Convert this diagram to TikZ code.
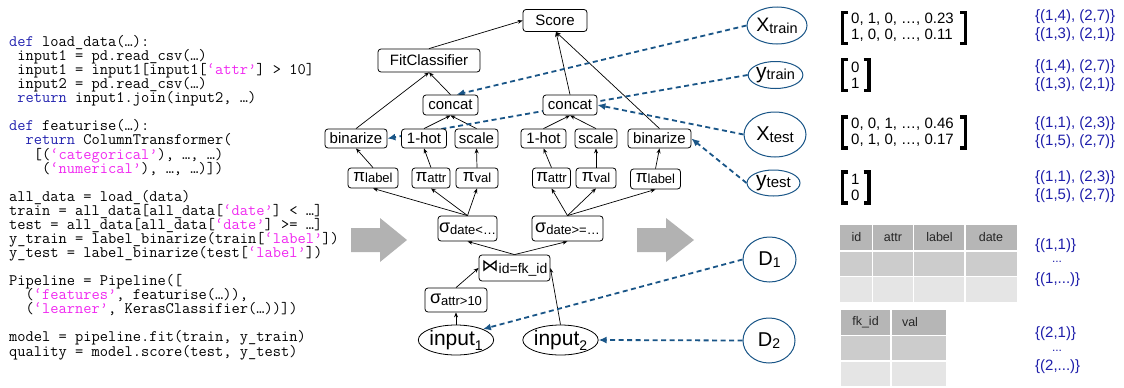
\documentclass[tikz,border=0pt]{standalone}
\usepackage{fontspec}
\setmainfont{Liberation Sans}
\newfontfamily\dejavu{DejaVu Sans}
\usetikzlibrary{arrows.meta,calc,shapes.geometric}
\pgfdeclarelayer{background}
\pgfsetlayers{background,main}
\definecolor{kwblue}{RGB}{35,35,175}
\definecolor{strmag}{RGB}{240,40,240}
\definecolor{dblue}{RGB}{25,85,135}
\definecolor{setblue}{RGB}{30,30,170}
\definecolor{garrow}{RGB}{178,178,178}
\definecolor{thead}{RGB}{182,182,182}
\definecolor{trowa}{RGB}{204,204,204}
\definecolor{trowb}{RGB}{229,229,229}
\newcommand\fs[1]{\fontsize{#1}{#1}\selectfont}
\newcommand\mykw[1]{\textcolor{kwblue}{#1}}
\newcommand\mystr[1]{\textcolor{strmag}{#1}}
\newcommand\cl[2]{\node[code] (code#1) at (9,{46.5+14.07*#1}) {#2};}
\newcommand\brk[4]{% left x, right x, ymid, serif length
  \draw[brkline] ({#1+#4},{#3-15.5}) -- (#1,{#3-15.5}) -- (#1,{#3+15.5}) -- ({#1+#4},{#3+15.5});
  \draw[brkline] ({#2-#4},{#3-15.5}) -- (#2,{#3-15.5}) -- (#2,{#3+15.5}) -- ({#2-#4},{#3+15.5});}
\tikzset{
  op/.style={draw, rounded corners=3pt, line width=0.8pt, fill=white, inner sep=1pt, font=\fs{15}},
  inp/.style={draw, ellipse, fill=white, line width=0.8pt, inner sep=0pt, font=\fs{21}},
  dat/.style={draw=dblue, fill=white, ellipse, line width=1pt, inner sep=0pt},
  edge/.style={-{Stealth[length=5pt,width=4pt]}, line width=0.7pt},
  dedge/.style={-{Latex[length=8pt,width=7pt]}, draw=dblue, line width=1.8pt, dash pattern=on 5pt off 3.5pt},
  code/.style={anchor=base west, inner sep=0pt, font=\ttfamily\fs{16}},
  matx/.style={anchor=west, inner sep=0pt, align=left, font=\fontsize{15}{16}\selectfont},
  setx/.style={anchor=west, inner sep=0pt, align=left, text=setblue, font=\fontsize{15}{18}\selectfont},
  brkline/.style={line width=3.5pt, line join=miter},
  grid/.style={draw=white, line width=1.4pt},
  th/.style={inner sep=0pt, text=black!85, font=\fs{12.5}},
  bigarrow/.style={fill=garrow}
}
\begin{document}
\begin{tikzpicture}[x=1pt,y=-1pt]
\useasboundingbox (0,0) rectangle (1124,388);

% ---------------- code ----------------
\cl{0}{\mykw{def}~load\_data(…):}
\cl{1}{~input1~=~pd.read\_csv(…)}
\cl{2}{~input1~=~input1[input1[\mystr{‘attr’}]~>~10]}
\cl{3}{~input2~=~pd.read\_csv(…)}
\cl{4}{~\mykw{return}~input1.join(input2,~…)}
\cl{6}{\mykw{def}~featurise(…):}
\cl{7}{~~\mykw{return}~ColumnTransformer(}
\cl{8}{~~~[(\mystr{‘categorical’}),~…,~…)}
\cl{9}{~~~~(\mystr{‘numerical’}),~…,~…)])}
\cl{11}{all\_data~=~load\_(data)}
\cl{12}{train~=~all\_data[all\_data[\mystr{‘date’}]~<~…]}
\cl{13}{test~=~all\_data[all\_data[\mystr{‘date’}]~>=~…]}
\cl{14}{y\_train~=~label\_binarize(train[\mystr{‘label’}])}
\cl{15}{y\_test~=~label\_binarize(test[\mystr{‘label’}])}
\cl{17}{Pipeline~=~Pipeline([}
\cl{18}{~~(\mystr{‘features’},~featurise(…)),}
\cl{19}{~~(\mystr{‘learner’},~KerasClassifier(…))])}
\cl{21}{model~=~pipeline.fit(train,~y\_train)}
\cl{22}{quality~=~model.score(test,~y\_test)}

% ---------------- big arrows ----------------
\fill[bigarrow] (351,228) -- (380,228) -- (380,218) -- (407,240) -- (380,262) -- (380,252) -- (351,252) -- cycle;
\fill[bigarrow] (637,228) -- (666,228) -- (666,218) -- (694,240) -- (666,262) -- (666,252) -- (637,252) -- cycle;

% ---------------- plan nodes ----------------
\node[op, minimum width=64pt, minimum height=22pt] (score) at (555,20.5) {Score};
\node[op, minimum width=102pt, minimum height=23pt] (fit) at (429,60.5) {FitClassifier};
\node[op, minimum width=55pt, minimum height=20pt] (concatL) at (450.5,105) {concat};
\node[op, minimum width=54pt, minimum height=20pt] (concatR) at (570,105) {concat};
\node[op, minimum width=62pt, minimum height=19pt] (binL) at (356,138.5) {binarize};
\node[op, minimum width=45pt, minimum height=19pt] (hotL) at (424,138.5) {1-hot};
\node[op, minimum width=43pt, minimum height=19pt] (scaleL) at (476.5,138.5) {scale};
\node[op, minimum width=45pt, minimum height=19pt] (hotR) at (543.5,138.5) {1-hot};
\node[op, minimum width=42pt, minimum height=19pt] (scaleR) at (596,138.5) {scale};
\node[op, minimum width=63pt, minimum height=19pt] (binR) at (659.5,138.5) {binarize};

\node[op, minimum width=50pt, minimum height=20pt] (piLabelL) at (373,178) {{\fs{17}π}\raisebox{-1pt}{\fs{13}label}};
\node[op, minimum width=38pt, minimum height=20pt] (piAttrL) at (431,178) {{\fs{17}π}\raisebox{-1pt}{\fs{13}attr}};
\node[op, minimum width=42pt, minimum height=20pt] (piValL) at (477,178) {{\fs{17}π}\raisebox{-1pt}{\fs{13}val}};
\node[op, minimum width=38pt, minimum height=20pt] (piAttrR) at (551.5,178) {{\fs{17}π}\raisebox{-1pt}{\fs{13}attr}};
\node[op, minimum width=40pt, minimum height=20pt] (piValR) at (596,178) {{\fs{17}π}\raisebox{-1pt}{\fs{13}val}};
\node[op, minimum width=50pt, minimum height=20pt] (piLabelR) at (655.5,179) {{\fs{17}π}\raisebox{-1pt}{\fs{13}label}};

\node[op, minimum width=57pt, minimum height=25pt] (sigL) at (467.5,228.5) {{\fs{18}σ}\raisebox{-2pt}{\fs{13}date<…}};
\node[op, minimum width=71pt, minimum height=25pt] (sigR) at (567.5,228.5) {{\fs{18}σ}\raisebox{-2pt}{\fs{13}date>=…}};
\node[op, minimum width=71pt, minimum height=26pt] (join) at (514.5,268) {{\dejavu\fs{17}⋈}\raisebox{-2pt}{\fs{14}id=fk\_id}};
\node[op, minimum width=62pt, minimum height=24pt] (sigA) at (456,300) {{\fs{18}σ}\raisebox{-2pt}{\fs{13}attr>10}};
\node[inp, minimum width=74pt, minimum height=30pt] (in1) at (456,340) {input\raisebox{-5pt}{\fs{14}1}};
\node[inp, minimum width=73pt, minimum height=30pt] (in2) at (560.5,340) {input\raisebox{-5pt}{\fs{14}2}};

% ---------------- data ellipses ----------------
\node[dat, minimum width=60pt, minimum height=37pt] (xtrain) at (777,25.5) {{\fs{19.5}X}\raisebox{-2pt}{\fs{14.5}train}};
\node[dat, minimum width=53pt, minimum height=27pt] (ytrain) at (775.5,75) {{\fs{21}y}\raisebox{-1pt}{\fs{14.5}train}};
\node[dat, minimum width=62pt, minimum height=45pt] (xtest) at (775,134.5) {{\fs{20}X}\raisebox{-2pt}{\fs{15}test}};
\node[dat, minimum width=53pt, minimum height=26pt] (ytest) at (773.5,183) {{\fs{21}y}\raisebox{-1pt}{\fs{15}test}};
\node[dat, minimum width=53pt, minimum height=45pt] (d1) at (769.5,259.5) {{\fs{20}D}\raisebox{-2pt}{\fs{14}1}};
\node[dat, minimum width=52pt, minimum height=45pt] (d2) at (769,340.5) {{\fs{20}D}\raisebox{-2pt}{\fs{14}2}};

\begin{pgfonlayer}{background}
% ---------------- plan edges ----------------
\draw[edge] (fit.north) -- (score.west);
\draw[edge] (concatR.north) -- (score.-85);
\draw[edge] (binR.north) -- (score.-85);
\draw[edge] (binL.north) -- (fit.south);
\draw[edge] (concatL.north) -- (fit.south);
\draw[edge] (hotL.north) -- (concatL.south);
\draw[edge] (scaleL.north) -- (concatL.south);
\draw[edge] (hotR.north) -- (concatR.south);
\draw[edge] (scaleR.north) -- (concatR.south);
\draw[edge] (piLabelL.north) -- (binL.south);
\draw[edge] (piAttrL.north) -- (hotL.south);
\draw[edge] (piValL.north) -- (scaleL.south);
\draw[edge] (piAttrR.north) -- (hotR.south);
\draw[edge] (piValR.north) -- (scaleR.south);
\draw[edge] (piLabelR.north) -- (binR.south);
\draw[edge] (sigL.north) -- (piLabelL.south);
\draw[edge] (sigL.north) -- (piAttrL.south);
\draw[edge] (sigL.north) -- (piValL.south);
\draw[edge] (sigR.north) -- (piAttrR.south);
\draw[edge] (sigR.north) -- (piValR.south);
\draw[edge] (sigR.north) -- (piLabelR.south);
\draw[edge] (join.north) -- (sigL.south);
\draw[edge] (join.north) -- (sigR.south);
\draw[edge] (sigA.north) -- (join.west);
\draw[edge] (in1.north) -- (sigA.south);
\draw[edge] (in2.north) -- (join.east);

% ---------------- data edges ----------------
\draw[dedge] (xtrain.west) -- (concatL.60);
\draw[dedge] (ytrain.west) -- (binL.east);
\draw[dedge] (xtest.west) -- (concatR.east);
\draw[dedge] (ytest.west) -- (binR.east);
\draw[dedge] (d1.west) -- (in1.22);
\draw[dedge] (d2.west) -- (in2.east);
\end{pgfonlayer}

% ---------------- matrices ----------------
\node[matx] (m1) at (851,27.5) {0, 1, 0, …, 0.23\\1, 0, 0, …, 0.11};
\node[matx] (m2) at (851,75.5) {0\\1};
\node[matx] (m3) at (851,132.5) {0, 0, 1, …, 0.46\\0, 1, 0, …, 0.17};
\node[matx] (m4) at (851,187.5) {1\\0};
\brk{842.5}{965.5}{28}{5.5}
\brk{842.5}{869}{75}{5.5}
\brk{842.5}{965.5}{132.5}{5.5}
\brk{842.5}{869}{187.5}{5.5}

% ---------------- sets ----------------
\node[setx] (s1) at (1035,25.7) {\{(1,4), (2,7)\}\\\{(1,3), (2,1)\}};
\node[setx] (s2) at (1035,76) {\{(1,4), (2,7)\}\\\{(1,3), (2,1)\}};
\node[setx] (s3) at (1035,133) {\{(1,1), (2,3)\}\\\{(1,5), (2,7)\}};
\node[setx] (s4) at (1035,187) {\{(1,1), (2,3)\}\\\{(1,5), (2,7)\}};
\node[setx] (s5) at (1035,246) {\{(1,1)\}};
\node[inner sep=0pt, text=setblue, font=\fs{12}] (s5d) at (1057,262) {...};
\node[setx] (s6) at (1035,280) {\{(1,...)\}};
\node[setx] (s7) at (1035,334) {\{(2,1)\}};
\node[inner sep=0pt, text=setblue, font=\fs{12}] (s7d) at (1057,351) {...};
\node[setx] (s8) at (1035,367) {\{(2,...)\}};

% ---------------- tables ----------------
\fill[thead] (840,225) rectangle (1017,251);
\fill[trowa] (840,251) rectangle (1017,276.5);
\fill[trowb] (840,276.5) rectangle (1017,302);
\draw[grid] (872.5,225) -- (872.5,302) (913.5,225) -- (913.5,302) (965,225) -- (965,302)
            (840,251) -- (1017,251) (840,276.5) -- (1017,276.5);
\node[th] (hid) at (856.5,237.5) {id};
\node[th] (hattr) at (893,237.5) {attr};
\node[th] (hlabel) at (939.5,237.5) {label};
\node[th] (hdate) at (991,237.5) {date};

\fill[thead] (841,310) rectangle (946,335.5);
\fill[trowa] (841,335.5) rectangle (946,361);
\fill[trowb] (841,361) rectangle (946,386);
\draw[grid] (891,310) -- (891,386) (841,335.5) -- (946,335.5) (841,361) -- (946,361);
\node[th] (hfk) at (865.5,322.5) {fk\_id};
\node[th] (hval) at (910,322.5) {val};
\end{tikzpicture}
\end{document}
